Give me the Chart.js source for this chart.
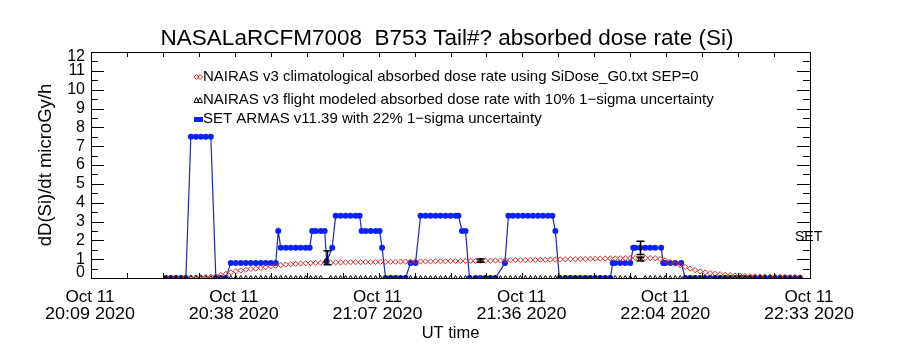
<!DOCTYPE html>
<html lang="en">
<head>
<meta charset="UTF-8">
<title>NASALaRCFM7008 B753 absorbed dose rate (Si)</title>
<script src="https://cdn.jsdelivr.net/npm/chart.js"></script>
<style>
  html, body { margin: 0; padding: 0; background: #fff; }
  #doseChart { display: block; }
</style>
</head>
<body>
<canvas id="doseChart" width="900" height="350"></canvas>
<script>
// time axis is minutes after Oct 11 2020 20:09 UT
const tickMinutes = [0, 28.8, 57.6, 86.4, 115.2, 144];
const tickDays = ['Oct 11', 'Oct 11', 'Oct 11', 'Oct 11', 'Oct 11', 'Oct 11'];
const tickTimes = ['20:09 2020', '20:38 2020', '21:07 2020', '21:36 2020', '22:04 2020', '22:33 2020'];
const doseTicks = [0, 1, 2, 3, 4, 5, 6, 7, 8, 9, 10, 11, 12];

// NAIRAS samples (climatological + flight modeled share the same times)
const nairasMinutes = [
  15, 16, 17, 18, 19, 20, 21, 22, 23, 24,
  25, 26, 27, 28, 29, 30, 31, 32, 33, 34,
  35, 36, 37, 38, 39, 40, 41, 42, 43, 44,
  45, 46, 47, 48, 49, 50, 51, 52, 53, 54,
  55, 56, 57, 58, 59, 60, 61, 62, 63, 64,
  65, 66, 67, 68, 69, 70, 71, 72, 73, 74,
  75, 76, 77, 78, 79, 80, 81, 82, 83, 84,
  85, 86, 87, 88, 89, 90, 91, 92, 93, 94,
  95, 96, 97, 98, 99, 100, 101, 102, 103, 104,
  105, 106, 107, 108, 109, 110, 111, 112, 113, 114,
  115, 116, 117, 118, 119, 120, 121, 122, 123, 124,
  125, 126, 127, 128, 129, 130, 131, 132, 133, 134,
  135, 136, 137, 138, 139, 140, 141, 142
];
const climDose = [
  0.0, 0.0, 0.01, 0.02, 0.02, 0.03, 0.03, 0.04, 0.05, 0.07,
  0.1, 0.16, 0.22, 0.3, 0.36, 0.4, 0.44, 0.48, 0.5, 0.53,
  0.58, 0.62, 0.65, 0.68, 0.71, 0.73, 0.75, 0.77, 0.78, 0.79,
  0.8, 0.81, 0.82, 0.82, 0.83, 0.83, 0.83, 0.84, 0.84, 0.84,
  0.85, 0.85, 0.85, 0.86, 0.86, 0.86, 0.86, 0.87, 0.87, 0.87,
  0.88, 0.88, 0.88, 0.88, 0.89, 0.89, 0.89, 0.9, 0.9, 0.9,
  0.91, 0.91, 0.91, 0.92, 0.92, 0.92, 0.93, 0.93, 0.94, 0.94,
  0.95, 0.95, 0.95, 0.96, 0.96, 0.97, 0.97, 0.98, 0.98, 0.99,
  0.99, 1.0, 1.0, 1.01, 1.01, 1.02, 1.02, 1.03, 1.03, 1.04,
  1.04, 1.05, 1.05, 1.06, 1.06, 1.07, 1.07, 1.06, 1.05, 1.01,
  0.93, 0.84, 0.76, 0.68, 0.59, 0.5, 0.42, 0.35, 0.3, 0.26,
  0.23, 0.2, 0.17, 0.15, 0.13, 0.12, 0.11, 0.1, 0.09, 0.08,
  0.08, 0.07, 0.07, 0.06, 0.06, 0.05, 0.05, 0.04
];
const flightDose = [
  0, 0, 0, 0, 0, 0, 0, 0, 0, 0,
  0, 0, 0, 0, 0, 0, 0, 0, 0, 0,
  0, 0, 0, 0, 0, 0, 0, 0, 0, 0,
  0, 0, 0.9, 0, 0, 0, 0, 0, 0, 0,
  0, 0, 0, 0, 0, 0, 0, 0, 0, 0,
  0, 0, 0, 0, 0, 0, 0, 0, 0, 0,
  0, 0, 0, 0.92, 0, 0, 0, 0, 0, 0,
  0, 0, 0, 0, 0, 0, 0, 0, 0, 0,
  0, 0, 0, 0, 0, 0, 0, 0, 0, 0,
  0, 0, 0, 0, 0, 1.0, 0, 0, 0, 0,
  0, 0, 0, 0, 0, 0, 0, 0, 0, 0,
  0, 0, 0, 0, 0, 0, 0, 0, 0, 0,
  0, 0, 0, 0, 0, 0, 0, 0
];

// SET ARMAS measurements
const armasMinutes = [
  15, 16, 17, 18, 19,
  20, 21, 22, 23, 24,
  25, 26, 27,
  28, 29, 30, 31, 32, 33, 34, 35, 36, 37,
  37.5,
  38, 39, 40, 41, 42, 43, 43.8,
  44.3, 45, 46, 46.8,
  47.2,
  48.3,
  49, 50, 51, 52, 53, 53.8,
  54.2, 55, 56, 57, 57.8,
  58.3,
  59, 60, 61, 62, 63,
  64, 65,
  66, 67, 68, 69, 70, 71, 72, 73, 73.6,
  74.3, 75,
  75.8, 77, 78, 79, 80, 81,
  82.9,
  83.6, 84.5, 85.5, 86.5, 87.5, 88.5, 89.5, 90.5, 91.5, 92.4,
  93,
  93.8, 95, 96, 97, 98, 99, 100, 101, 102, 103, 104,
  104.5, 105, 106, 107, 108,
  108.6, 109, 110, 111, 112, 113, 114.2,
  114.6, 115, 116, 117, 118.2,
  119, 120, 121, 122, 123, 124, 125, 126, 127, 128, 129, 130,
  131, 132, 133, 134, 135, 136, 137, 138, 139, 140, 141, 142
];
const armasDose = [
  0, 0, 0, 0, 0,
  7.5, 7.5, 7.5, 7.5, 7.5,
  0, 0, 0,
  0.8, 0.8, 0.8, 0.8, 0.8, 0.8, 0.8, 0.8, 0.8, 0.8,
  2.5,
  1.6, 1.6, 1.6, 1.6, 1.6, 1.6, 1.6,
  2.5, 2.5, 2.5, 2.5,
  0.87,
  1.6,
  3.3, 3.3, 3.3, 3.3, 3.3, 3.3,
  2.5, 2.5, 2.5, 2.5, 2.5,
  1.6,
  0, 0, 0, 0, 0,
  0.8, 0.8,
  3.3, 3.3, 3.3, 3.3, 3.3, 3.3, 3.3, 3.3, 3.3,
  2.5, 2.5,
  0, 0, 0, 0, 0, 0,
  0.8,
  3.3, 3.3, 3.3, 3.3, 3.3, 3.3, 3.3, 3.3, 3.3, 3.3,
  2.5,
  0, 0, 0, 0, 0, 0, 0, 0, 0, 0, 0,
  0.8, 0.8, 0.8, 0.8, 0.8,
  1.6, 1.6, 1.6, 1.6, 1.6, 1.6, 1.6,
  0.8, 0.8, 0.8, 0.8, 0.8,
  0, 0, 0, 0, 0, 0, 0, 0, 0, 0, 0, 0,
  0, 0, 0, 0, 0, 0, 0, 0, 0, 0, 0, 0
];

// uncertainty bars
const errMinutes = [47.2, 78, 110, 110];
const errLow = [0.7, 0.83, 0.9, 1.25];
const errHigh = [1.45, 1.01, 1.1, 1.95];

const FONT = "'Liberation Sans', Arial, sans-serif";
const RED = '#d42a2a';
const BLUE = '#0b23f0';

const legendRows = [
  { text: 'NAIRAS v3 climatological absorbed dose rate using SiDose_G0.txt SEP=0', y: 77, mark: 'diamond' },
  { text: 'NAIRAS v3 flight modeled absorbed dose rate with 10% 1\u2212sigma uncertainty', y: 100, mark: 'triangle' },
  { text: 'SET ARMAS v11.39 with 22% 1\u2212sigma uncertainty', y: 119, mark: 'bar' }
];

function xy(xs, ys) {
  return xs.map((m, i) => ({ x: m, y: ys[i] }));
}

function diamond(ctx, x, y, r) {
  ctx.beginPath();
  ctx.moveTo(x, y - r); ctx.lineTo(x + r, y); ctx.lineTo(x, y + r); ctx.lineTo(x - r, y);
  ctx.closePath();
  ctx.stroke();
}

function triangle(ctx, x, y, r) {
  ctx.beginPath();
  ctx.moveTo(x, y - r); ctx.lineTo(x + r, y + r); ctx.lineTo(x - r, y + r);
  ctx.closePath();
  ctx.stroke();
}

// centred text, stretched sideways to the given width (the time labels run wide)
function wideText(ctx, text, x, y, width) {
  const w = ctx.measureText(text).width;
  ctx.save();
  ctx.translate(x, y);
  ctx.scale(width / w, 1);
  ctx.fillText(text, 0, 0);
  ctx.restore();
}

// box, inward ticks, error bars and all the annotation text
const decorations = {
  id: 'decorations',
  afterDatasetsDraw(chart) {
    const { ctx, chartArea: a, scales: { x, y } } = chart;
    ctx.save();
    ctx.strokeStyle = '#000';
    ctx.lineWidth = 1.5;
    errMinutes.forEach((m, i) => {
      const px = Math.round(x.getPixelForValue(m)) + 0.5;
      const lo = y.getPixelForValue(errLow[i]);
      const hi = y.getPixelForValue(errHigh[i]);
      ctx.beginPath();
      ctx.moveTo(px, lo); ctx.lineTo(px, hi);
      ctx.moveTo(px - 4, lo); ctx.lineTo(px + 4, lo);
      ctx.moveTo(px - 4, hi); ctx.lineTo(px + 4, hi);
      ctx.stroke();
    });

    ctx.lineWidth = 1;
    ctx.strokeRect(a.left + 0.5, a.top + 0.5, a.right - a.left, a.bottom - a.top);
    ctx.beginPath();
    for (let v = 0.5; v < 12; v += 0.5) {
      const py = Math.round(y.getPixelForValue(v)) + 0.5;
      const len = Number.isInteger(v) ? 13 : 7;
      ctx.moveTo(a.left, py); ctx.lineTo(a.left + len, py);
      ctx.moveTo(a.right, py); ctx.lineTo(a.right - len, py);
    }
    for (let m = 7.2; m < 144; m += 7.2) {
      const px = Math.round(x.getPixelForValue(m)) + 0.5;
      ctx.moveTo(px, a.bottom); ctx.lineTo(px, a.bottom - 5);
      ctx.moveTo(px, a.top); ctx.lineTo(px, a.top + 5);
    }
    ctx.stroke();
    ctx.restore();
  },
  afterDraw(chart) {
    const { ctx, chartArea: a, scales: { x, y } } = chart;
    ctx.save();
    ctx.fillStyle = '#000';

    // dose tick labels; the end labels are kept inside the frame height
    ctx.font = '16px ' + FONT;
    ctx.textAlign = 'right';
    ctx.textBaseline = 'middle';
    doseTicks.forEach(v => {
      const py = Math.min(Math.max(y.getPixelForValue(v), a.top + 5), a.bottom - 5);
      ctx.fillText(String(v), a.left - 6, py);
    });

    // two-line time labels under each major tick
    ctx.textAlign = 'center';
    ctx.textBaseline = 'alphabetic';
    ctx.font = '16.5px ' + FONT;
    tickMinutes.forEach((m, i) => {
      const px = x.getPixelForValue(m) - 1;
      wideText(ctx, tickDays[i], px, a.bottom + 24, 49);
      wideText(ctx, tickTimes[i], px, a.bottom + 41, 90);
    });

    ctx.font = '22.5px ' + FONT;
    ctx.fillText('NASALaRCFM7008  B753 Tail#? absorbed dose rate (Si)', 447, 45);

    ctx.font = '16.5px ' + FONT;
    ctx.fillText('UT time', (a.left + a.right) / 2, 338);

    ctx.save();
    ctx.translate(51, (a.top + a.bottom) / 2);
    ctx.rotate(-Math.PI / 2);
    ctx.font = '18.5px ' + FONT;
    ctx.fillText('dD(Si)/dt microGy/h', 0, 0);
    ctx.restore();

    ctx.font = '14px ' + FONT;
    ctx.textAlign = 'left';
    ctx.textBaseline = 'middle';
    ctx.fillText('SET', 795, 237);

    ctx.font = '15px ' + FONT;
    legendRows.forEach(row => {
      ctx.fillStyle = '#000';
      ctx.fillText(row.text, 203, row.y);
      ctx.lineWidth = 1;
      if (row.mark === 'diamond') {
        ctx.strokeStyle = RED;
        diamond(ctx, 196.5, row.y, 2.5);
        diamond(ctx, 200, row.y, 2.5);
      } else if (row.mark === 'triangle') {
        ctx.strokeStyle = '#000';
        triangle(ctx, 196.5, row.y, 2.5);
        triangle(ctx, 200, row.y, 2.5);
      } else {
        ctx.fillStyle = BLUE;
        ctx.fillRect(194, row.y - 2, 9, 5);
      }
    });
    ctx.restore();
  }
};

new Chart(document.getElementById('doseChart'), {
  type: 'scatter',
  data: {
    datasets: [
      {
        label: 'NAIRAS v3 flight modeled',
        data: xy(nairasMinutes, flightDose),
        showLine: false,
        pointStyle: 'triangle',
        pointRadius: 2.5,
        pointBorderWidth: 1,
        pointBorderColor: '#000',
        pointBackgroundColor: 'rgba(0,0,0,0)'
      },
      {
        label: 'NAIRAS v3 climatological',
        data: xy(nairasMinutes, climDose),
        showLine: false,
        pointStyle: 'rectRot',
        pointRadius: 2.6,
        pointBorderWidth: 1,
        pointBorderColor: RED,
        pointBackgroundColor: 'rgba(0,0,0,0)'
      },
      {
        label: 'SET ARMAS v11.39',
        data: xy(armasMinutes, armasDose),
        showLine: true,
        borderColor: '#1b2f9e',
        borderWidth: 1.2,
        pointStyle: 'circle',
        pointRadius: 3,
        pointBorderWidth: 0,
        pointBackgroundColor: BLUE
      }
    ]
  },
  options: {
    responsive: false,
    animation: false,
    devicePixelRatio: 1,
    layout: { padding: { top: 52, right: 90, bottom: 0, left: 0 } },
    plugins: {
      legend: { display: false },
      title: { display: false },
      tooltip: { enabled: false }
    },
    scales: {
      x: {
        type: 'linear',
        min: 0,
        max: 144,
        grid: { display: false, drawTicks: false },
        border: { display: false },
        afterBuildTicks: scale => { scale.ticks = tickMinutes.map(v => ({ value: v })); },
        afterFit: scale => { scale.height = 72; },
        ticks: { display: false }
      },
      y: {
        min: 0,
        max: 12,
        grid: { display: false, drawTicks: false },
        border: { display: false },
        afterFit: scale => { scale.width = 91; },
        ticks: { display: false, stepSize: 1 }
      }
    }
  },
  plugins: [decorations]
});
</script>
</body>
</html>
